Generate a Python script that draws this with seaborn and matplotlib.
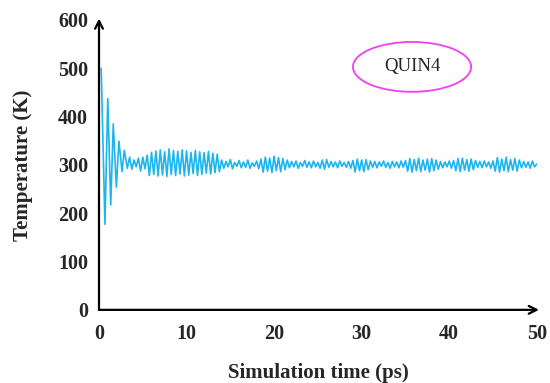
import matplotlib
matplotlib.use("Agg")
import matplotlib.pyplot as plt
from matplotlib.patches import Ellipse
import numpy as np
import pandas as pd
import seaborn as sns

# Early damped part (read peak by peak)
early_time = [0.25, 0.68, 1.0, 1.34, 1.63, 1.98, 2.28, 2.63, 2.89, 3.23]
early_temp = [500, 177, 437, 217, 385, 254, 349, 286, 330, 293]

# Rest of the run, every 0.25 ps from 3.5 to 50 ps
seg_a = [316, 291, 310, 296, 314, 287, 316, 292, 320]
seg_b = [278, 326, 280, 329, 277, 331, 279, 327, 276, 333,
         280, 330, 278, 328, 281, 331, 277, 329, 279, 326,
         282, 330, 278, 327, 280, 325, 283, 328, 281, 324,
         284, 322, 286]
seg_c = [310, 293, 307, 296, 311, 292, 305, 297, 309, 294,
         306, 295, 310, 293, 304, 297, 308, 292, 312]
seg_d = [285, 316, 287, 314, 284, 318, 288, 315, 286, 313, 290, 310]
seg_e = [294, 307, 296, 308, 293, 305, 297, 309, 295, 306,
         294, 308, 296, 305, 293, 310, 291, 311, 295, 307,
         296, 306, 294, 308, 297, 305, 295, 307, 293, 309]
seg_f = [285, 312, 288, 310, 286, 311, 290, 308]
seg_g = [295, 307, 294, 306, 297, 308, 295, 305, 293, 307,
         296, 306, 294, 308, 295, 309]
seg_h = [287, 313, 285, 311, 288, 314, 286, 310, 289, 312,
         285, 313, 288, 310, 291]
seg_i = [307, 294, 306, 296, 308, 293, 309]
seg_j = [288, 313, 286, 314, 289, 311, 287, 312, 290, 309]
seg_k = [295, 307, 294, 308, 296, 306, 293, 308]
seg_l = [287, 315, 285, 312, 288, 316, 286, 311, 289, 313, 287, 310]
seg_m = [294, 307, 295, 306, 293, 308, 296, 302]

late_temp = (seg_a + seg_b + seg_c + seg_d + seg_e + seg_f + seg_g
             + seg_h + seg_i + seg_j + seg_k + seg_l + seg_m)
late_time = list(np.arange(3.5, 50.001, 0.25))[:len(late_temp)]

df = pd.DataFrame({"time": early_time + late_time,
                   "temp": early_temp + late_temp})

sns.set_style("white")
plt.rcParams["font.family"] = ["Liberation Serif", "DejaVu Serif"]

fig = plt.figure(figsize=(5.5, 3.83), dpi=100)
ax = fig.add_axes([0.18, 0.191, 0.796, 0.757])

sns.lineplot(data=df, x="time", y="temp", estimator=None, sort=False,
             color="#1CB5F0", linewidth=1.2, ax=ax)

ax.set_xlim(0, 50)
ax.set_ylim(0, 600)
ax.set_xticks([0, 10, 20, 30, 40, 50])
ax.set_yticks([0, 100, 200, 300, 400, 500, 600])
ax.tick_params(axis="both", direction="out", length=4, width=1.2,
               labelsize=14.5, color="black")
ax.tick_params(axis="x", pad=6)
ax.tick_params(axis="y", pad=4)
for lab in ax.get_xticklabels() + ax.get_yticklabels():
    lab.set_fontweight("bold")

ax.set_xlabel("Simulation time (ps)", fontsize=15, fontweight="bold", labelpad=14)
ax.set_ylabel("Temperature (K)", fontsize=15, fontweight="bold", labelpad=18)

# axes drawn as arrows
for s in ax.spines.values():
    s.set_visible(False)
arrow = dict(arrowstyle="->", lw=1.6, color="black", shrinkA=0, shrinkB=0,
             mutation_scale=14)
ax.annotate("", xy=(1.005, 0), xytext=(0, 0), xycoords="axes fraction",
            arrowprops=arrow, annotation_clip=False)
ax.annotate("", xy=(0, 1.005), xytext=(0, 0), xycoords="axes fraction",
            arrowprops=arrow, annotation_clip=False)

# label in an ellipse
ax.add_patch(Ellipse((0.715, 0.838), 0.27, 0.172, transform=ax.transAxes,
                     fill=False, edgecolor="#F040F0", lw=1.3))
ax.text(0.715, 0.838, "QUIN4", transform=ax.transAxes, ha="center",
        va="center", fontsize=13.5)

fig.savefig("out.png", dpi=100)
